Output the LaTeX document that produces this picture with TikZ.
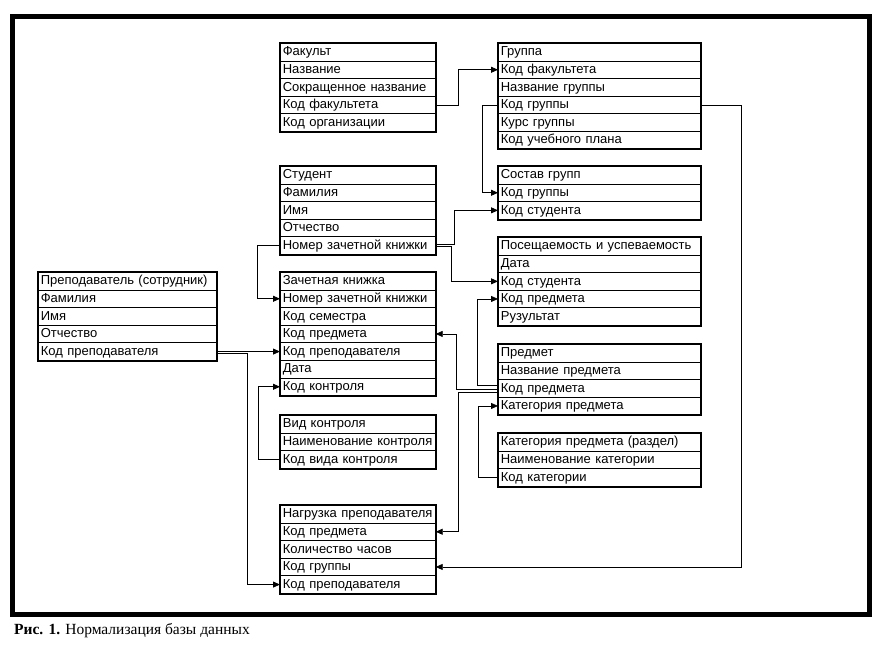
\documentclass[tikz,border=0pt]{standalone}
\usepackage{fontspec}
\setmainfont{Liberation Sans}
\newfontfamily\captfont{Liberation Serif}
\usetikzlibrary{arrows.meta}
\newcommand\rh{17.6}
\tikzset{
  rowbox/.style={draw, line width=0.7pt, anchor=north west, inner xsep=2.5pt, inner ysep=0pt,
    minimum height=\rh pt, text height=10pt, text depth=2.6pt, align=left,
    font=\fontsize{13}{14}\selectfont},
  outer/.style={draw, line width=2pt},
  titlesep/.style={draw, line width=1.5pt},
  conn/.style={draw, line width=0.8pt, -{Triangle[length=7pt,width=6pt]}},
  frame/.style={draw, line width=4.6pt}
}
% name, x, y, width, number of rows, rows
\newcommand\dbtable[6]{%
  \foreach \t [count=\i from 0] in {#6} {
    \node[rowbox, text width=#4pt-5pt] (#1-\i) at (#2,{#3+\i*\rh}) {\t};
  }
  \draw[outer] (#1-0.north west) rectangle (#1-\number\numexpr#5-1\relax.south east);
  \draw[titlesep] (#1-0.south west) -- (#1-0.south east);
}
\begin{document}
\begin{tikzpicture}[x=1pt,y=-1pt]
\useasboundingbox (0,0) rectangle (893,659);
\draw[frame] (12.3,16.3) rectangle (869.7,614.7);

\dbtable{fak}{280}{43}{155}{5}{Факульт,Название,Сокращенное название,Код факультета,Код организации}
\dbtable{grp}{498}{43}{202}{6}{Группа,Код факультета,Название группы,Код группы,Курс группы,Код учебного плана}
\dbtable{stu}{280}{166}{155}{5}{Студент,Фамилия,Имя,Отчество,Номер зачетной книжки}
\dbtable{sos}{498}{166}{202}{3}{Состав групп,Код группы,Код студента}
\dbtable{pos}{498}{237}{202}{5}{Посещаемость и успеваемость,Дата,Код студента,Код предмета,Рузультат}
\dbtable{pre}{38}{272}{178}{5}{Преподаватель (сотрудник),Фамилия,Имя,Отчество,Код преподавателя}
\dbtable{zach}{280}{272}{155}{7}{Зачетная книжка,Номер зачетной книжки,Код семестра,Код предмета,Код преподавателя,Дата,Код контроля}
\dbtable{pred}{498}{344}{202}{4}{Предмет,Название предмета,Код предмета,Категория предмета}
\dbtable{vid}{280}{415}{155}{3}{Вид контроля,Наименование контроля,Код вида контроля}
\dbtable{kat}{498}{433}{202}{3}{Категория предмета (раздел),Наименование категории,Код категории}
\dbtable{nag}{280}{505}{155}{5}{Нагрузка преподавателя,Код предмета,Количество часов,Код группы,Код преподавателя}

% connectors
\draw[conn] (fak-3.east) -- ++(23,0) |- (grp-1.west);
\draw[conn] (grp-3.west) -- ++(-16,0) |- (sos-1.west);
\draw[conn] (grp-3.east) -- ++(41,0) |- (nag-3.east);
\draw[conn] ([yshift=1pt]stu-4.east) -- ++(19,0) |- (sos-2.west);
\draw[conn] ([yshift=-1pt]stu-4.east) -- ++(16,0) |- (pos-2.west);
\draw[conn] (stu-4.west) -- ++(-23,0) |- (zach-1.west);
\draw[conn] (pre-4.east) -- (zach-4.west);
\draw[conn] ([yshift=-2pt]pre-4.east) -- ++(31,0) |- (nag-4.west);
\draw[conn] (vid-2.west) -- ++(-22,0) |- (zach-6.west);
\draw[conn] ([yshift=3pt]pred-2.west) -- ++(-21,0) |- (pos-3.west);
\draw[conn] ([yshift=-1pt]pred-2.west) -- ++(-42,0) |- (zach-3.east);
\draw[conn] ([yshift=-4pt]pred-2.west) -- ++(-40,0) |- (nag-1.east);
\draw[conn] (kat-2.west) -- ++(-20,0) |- (pred-3.west);

\node[anchor=base west, inner sep=0pt, font=\captfont\fontsize{15.5}{17}\selectfont] (cap) at (14,634) {\textbf{Рис. 1.} Нормализация базы данных};
\end{tikzpicture}
\end{document}
